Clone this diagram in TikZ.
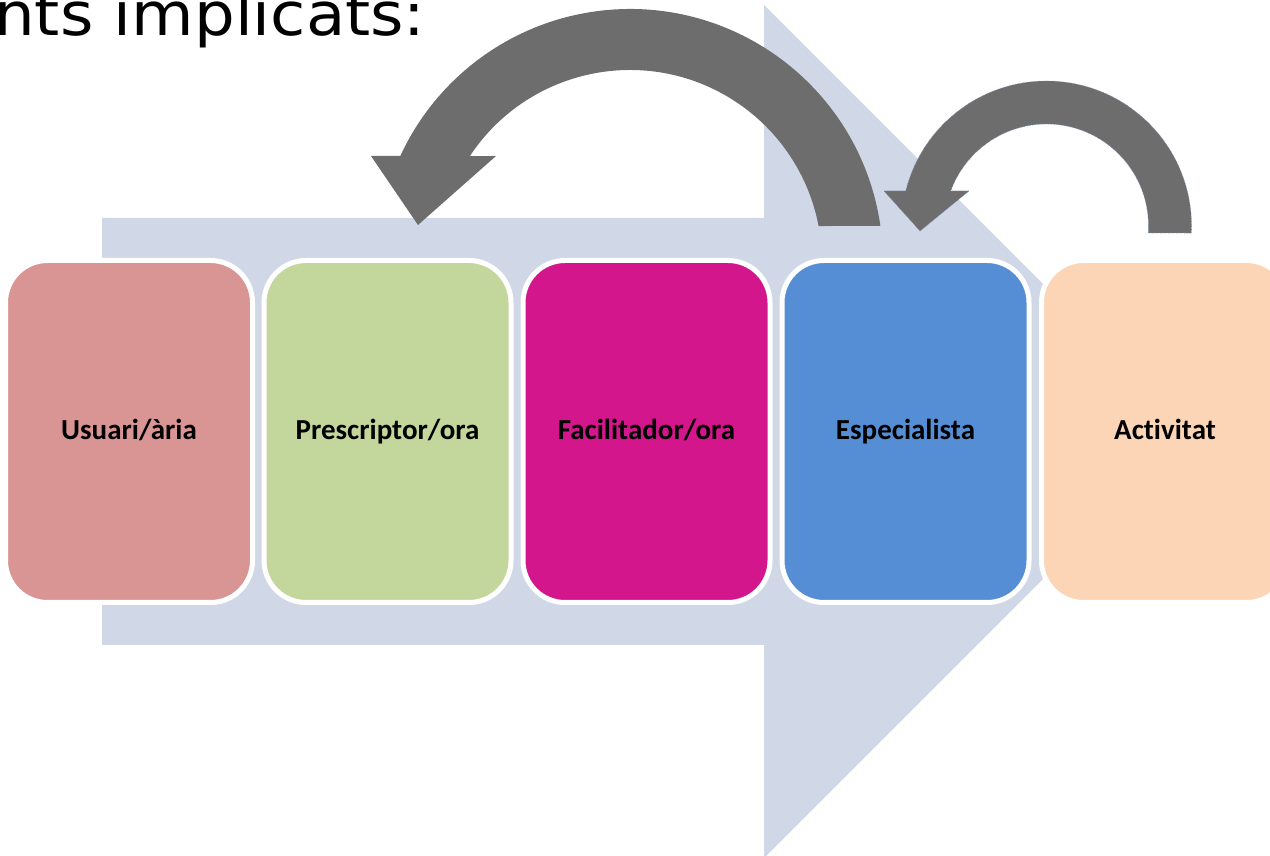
\documentclass[tikz,border=0pt]{standalone}
\usepackage{fontspec}
\newfontfamily\boxfont[Ligatures={NoCommon}]{Carlito}
\newfontfamily\titlefont[FakeStretch=1.07]{DejaVu Sans}
\usetikzlibrary{calc}
\definecolor{bgarrow}{RGB}{208,216,232}
\definecolor{arrowgray}{RGB}{109,109,109}
\definecolor{arrowedge}{RGB}{120,140,172}
\definecolor{cUsuari}{RGB}{217,149,148}
\definecolor{cPresc}{RGB}{195,214,155}
\definecolor{cFacil}{RGB}{212,22,140}
\definecolor{cEspec}{RGB}{85,142,213}
\definecolor{cActiv}{RGB}{251,213,181}
\tikzset{
  rolebox/.style={draw=white, line width=5pt, rounded corners=42pt,
    minimum width=247pt, minimum height=342pt, inner sep=0pt,
    text height=21pt, text depth=5.4pt,
    font=\boxfont\bfseries\fontsize{29}{34}\selectfont, text=black},
  bigbg/.style={fill=bgarrow},
  curvearrow/.style={fill=arrowgray},
  smallcurve/.style={fill=arrowgray, draw=arrowedge, line width=0.6pt, densely dotted}
}
\begin{document}
\begin{tikzpicture}[x=1pt,y=1pt]
\useasboundingbox (0,0) rectangle (1270,855);
% title fragment
\node[anchor=base west, inner sep=0pt, font=\titlefont\fontsize{60}{66}\selectfont] (title) at (-6,819) {nts implicats:};
% background block arrow
\path[bigbg] (102,210) -- (102,637) -- (764,637) -- (764,850) -- (1190.5,423.5) -- (764,-3) -- (764,210) -- cycle;
% big curved arrow
\coordinate (C1) at (630,593);
\path[curvearrow] ($(C1)+(8.2:253)$) arc[start angle=8.2, end angle=155.2, radius=253]
  -- (371,699) -- (418,630) -- (496,699)
  -- ($(C1)+(146.5:192)$) arc[start angle=146.5, end angle=10.8, radius=192] -- cycle;
% small curved arrow
\coordinate (C2) at (1046.5,629);
\path[smallcurve] ($(C2)+(-2.77:145)$) arc[start angle=-2.77, end angle=166.03, radius=145]
  -- (884,664) -- (920,624) -- (969,664)
  -- ($(C2)+(159.93:102)$) arc[start angle=159.93, end angle=-3.93, radius=102] -- cycle;
% boxes
\node[rolebox, fill=cUsuari] (usuari) at (129,423.5) {Usuari/\`aria};
\node[rolebox, fill=cPresc] (presc) at (387.5,423.5) {Prescriptor/ora};
\node[rolebox, fill=cFacil] (facil) at (646.5,423.5) {Facilitador/ora};
\node[rolebox, fill=cEspec] (espec) at (905.5,423.5) {Especialista};
\node[rolebox, fill=cActiv] (activ) at (1165,423.5) {Activitat};
\end{tikzpicture}
\end{document}
